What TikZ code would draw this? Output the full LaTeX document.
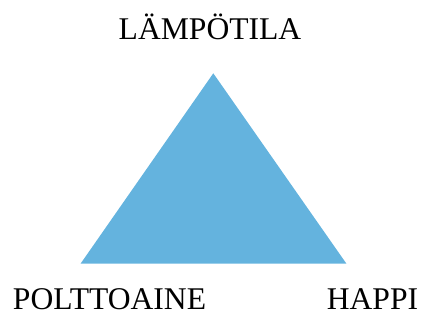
\documentclass[tikz,border=0pt]{standalone}
\usepackage{fontspec}
\setmainfont{Liberation Serif}
\definecolor{triblue}{HTML}{64B3DE}
\begin{document}
\begin{tikzpicture}[x=1pt,y=-1pt,
  lbl/.style={inner sep=0pt,anchor=base,font=\fontsize{31.6}{37}\selectfont}]
\useasboundingbox (0,0) rectangle (422,320);
\coordinate (top) at (213.3,73.3);
\coordinate (bl) at (80.7,263.5);
\coordinate (br) at (346.3,263.5);
\fill[triblue] (top) -- (br) -- (bl) -- cycle;
\node[lbl] (heat) at (210,39.3) {LÄMPÖTILA};
\node[lbl] (fuel) at (109.5,309.3) {POLTTOAINE};
\node[lbl] (oxy) at (372.5,309.3) {HAPPI};
\end{tikzpicture}
\end{document}
